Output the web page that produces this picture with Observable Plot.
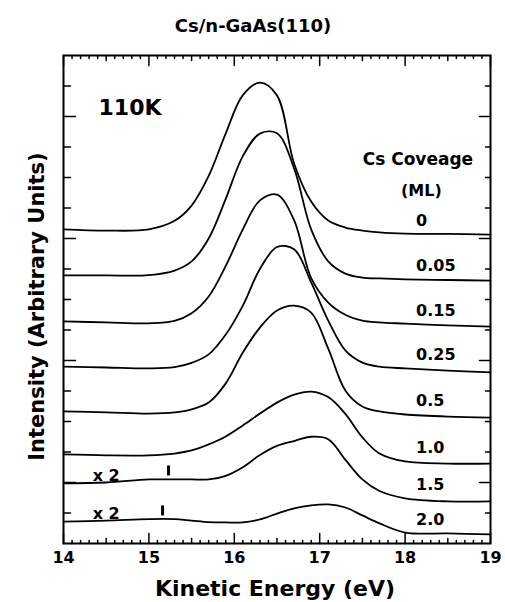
<!DOCTYPE html>
<html><head><meta charset="utf-8">
<script src="https://cdn.jsdelivr.net/npm/d3@7"></script>
<script src="https://cdn.jsdelivr.net/npm/@observablehq/plot@0.6"></script>
<style>html,body{margin:0;padding:0;background:#fff} svg{display:block}</style>
</head><body><div id="chart"></div>
<script>
// Kinetic energy grid (eV)
const energy = [14.0,14.5,15.0,15.3,15.5,15.7,15.9,16.1,16.3,16.5,16.7,16.9,17.1,17.3,17.5,17.7,18.0,18.5,19.0];
// Intensities (arbitrary units, with vertical offsets as drawn)
const cov0   = [10.30,10.26,10.30,10.58,11.08,12.05,13.45,14.70,15.11,14.69,12.46,11.21,10.59,10.36,10.26,10.20,10.16,10.15,10.13];
const cov005 = [8.79,8.79,8.80,8.95,9.25,10.00,11.30,12.70,13.44,13.45,12.30,10.30,9.25,8.85,8.72,8.69,8.66,8.64,8.62];
const cov015 = [7.28,7.25,7.22,7.30,7.55,8.10,9.10,10.30,11.25,11.44,10.60,8.70,7.90,7.50,7.31,7.25,7.21,7.15,7.11];
const cov025 = [5.80,5.77,5.74,5.78,5.92,6.20,6.85,7.80,9.00,9.72,9.65,8.56,7.31,6.33,5.93,5.80,5.74,5.67,5.61];
const cov05  = [4.33,4.30,4.26,4.30,4.40,4.62,5.25,6.26,7.08,7.64,7.80,7.57,6.39,5.02,4.49,4.33,4.23,4.16,4.13];
const cov10  = [2.92,2.89,2.89,2.95,3.05,3.25,3.51,3.87,4.26,4.62,4.88,4.98,4.80,4.25,3.48,2.95,2.69,2.62,2.62];
const cov15  = [1.97,2.00,2.10,2.10,2.10,2.10,2.22,2.50,2.90,3.20,3.36,3.50,3.42,2.75,2.10,1.72,1.48,1.38,1.38];
const cov20  = [0.72,0.75,0.80,0.80,0.75,0.70,0.69,0.69,0.79,0.98,1.15,1.25,1.28,1.18,0.92,0.66,0.36,0.33,0.30];
const coverages = ["0","0.05","0.15","0.25","0.5","1.0","1.5","2.0"];
const seriesList = [cov0,cov005,cov015,cov025,cov05,cov10,cov15,cov20];
// "x 2" magnification notes (on the 1.5 and 2.0 ML curves)
const scaledCurves = [6, 7];
const scaleNote = "x 2";
// small vertical markers
const markerE = [15.23, 15.16];
const markerI = [2.23, 0.92];
// axis ticks
const xTickValues = [14,15,16,17,18,19];
const xTickLabels = ["14","15","16","17","18","19"];
const yTickValues = [1,2,3,4,5,6,7,8,9,10,11,12,13,14,15];
const yMajorTicks = [2,6,10,14];
const titleText = "Cs/n-GaAs(110)";
const tempText = "110K";
const legendTitle = ["Cs Coveage", "(ML)"];
const xLabel = "Kinetic Energy (eV)";
const yLabel = "Intensity (Arbitrary Units)";

const rows = seriesList.flatMap((vals, i) => vals.map((v, j) => ({E: energy[j], I: v, c: coverages[i]})));
const xHalf = xTickValues.slice(0, -1).map(d => d + 0.5);
const xMinor = d3.range(14, 19.001, 0.1).map(d => +d.toFixed(1)).filter(d => !xTickValues.includes(d) && !xHalf.includes(d));
const yMinor = yTickValues.filter(d => !yMajorTicks.includes(d));

const seg = {draw(ctx, l) { ctx.moveTo(0, 0); ctx.lineTo(0, -l); }};
const F = "'DejaVu Sans', sans-serif";
const tickOpts = {shape: seg, anchor: "start", stroke: "black", strokeWidth: 1.5};
const vx = (data, anchor, rotate, length) => Plot.vector(data, {x: d => d, frameAnchor: anchor, rotate, length, ...tickOpts});
const vy = (data, anchor, rotate, length) => Plot.vector(data, {y: d => d, frameAnchor: anchor, rotate, length, ...tickOpts});

const chart = Plot.plot({
  width: 505, height: 602,
  marginLeft: 63, marginRight: 15, marginTop: 55, marginBottom: 59,
  x: {domain: [14, 19], axis: null},
  y: {domain: [0, 16], axis: null},
  style: {fontFamily: F, background: "white", color: "black"},
  marks: [
    // ticks (inward)
    vx(xTickValues, "bottom", 0, 10), vx(xHalf, "bottom", 0, 5), vx(xMinor, "bottom", 0, 3),
    vx(xTickValues, "top", 180, 10), vx(xHalf, "top", 180, 5), vx(xMinor, "top", 180, 3),
    vy(yMajorTicks, "left", 90, 12), vy(yMinor, "left", 90, 7),
    vy(yMajorTicks, "right", -90, 11), vy(yMinor, "right", -90, 5),
    Plot.frame({stroke: "black", strokeWidth: 2}),
    // curves
    Plot.line(rows, {x: "E", y: "I", z: "c", curve: "catmull-rom", stroke: "black", strokeWidth: 1.8}),
    // markers
    Plot.vector(markerE, {x: d => d, y: (d, i) => markerI[i], length: 10, ...tickOpts, strokeWidth: 3, strokeLinecap: "butt"}),
    // x tick labels
    Plot.text(xTickValues, {x: d => d, frameAnchor: "bottom", dy: 19, lineAnchor: "bottom", text: (d, i) => xTickLabels[i], fontFamily: F, fontWeight: "bold", fontSize: 16, fill: "black"}),
    // coverage labels
    Plot.text(coverages, {x: () => energy[16], y: (d, i) => seriesList[i][16], dx: 11, dy: -8, textAnchor: "start", lineAnchor: "bottom", text: d => d, fontFamily: F, fontWeight: "bold", fontSize: 16, fill: "black"}),
    Plot.text([legendTitle[0]], {x: 18.15, y: 12.59, textAnchor: "middle", lineAnchor: "middle", fontFamily: F, fontWeight: "bold", fontSize: 17, fill: "black"}),
    Plot.text([legendTitle[1]], {x: 18.19, y: 11.55, textAnchor: "middle", lineAnchor: "middle", fontFamily: F, fontWeight: "bold", fontSize: 16, fill: "black"}),
    // x 2 notes
    Plot.text(scaledCurves, {x: () => energy[1], y: i => seriesList[i][1], dy: -2, textAnchor: "middle", lineAnchor: "bottom", text: () => scaleNote, fontFamily: F, fontWeight: "bold", fontSize: 16, fill: "black"}),
    // temperature
    Plot.text([tempText], {x: 14.41, y: 14.28, textAnchor: "start", lineAnchor: "middle", fontFamily: F, fontWeight: "bold", fontSize: 22, fill: "black"}),
    // axis titles
    Plot.text([xLabel], {frameAnchor: "bottom", dx: -2, dy: 52, textAnchor: "middle", lineAnchor: "bottom", fontFamily: F, fontWeight: "bold", fontSize: 22, fill: "black"}),
    Plot.text([yLabel], {frameAnchor: "left", dx: -20, dy: 7, rotate: -90, textAnchor: "middle", lineAnchor: "bottom", fontFamily: F, fontWeight: "bold", fontSize: 21, fill: "black"}),
    Plot.text([titleText], {frameAnchor: "top", dx: -24, dy: -24, textAnchor: "middle", lineAnchor: "bottom", fontFamily: F, fontWeight: "bold", fontSize: 18, fill: "black"})
  ]
});
document.getElementById("chart").append(chart);
</script>
</body></html>
